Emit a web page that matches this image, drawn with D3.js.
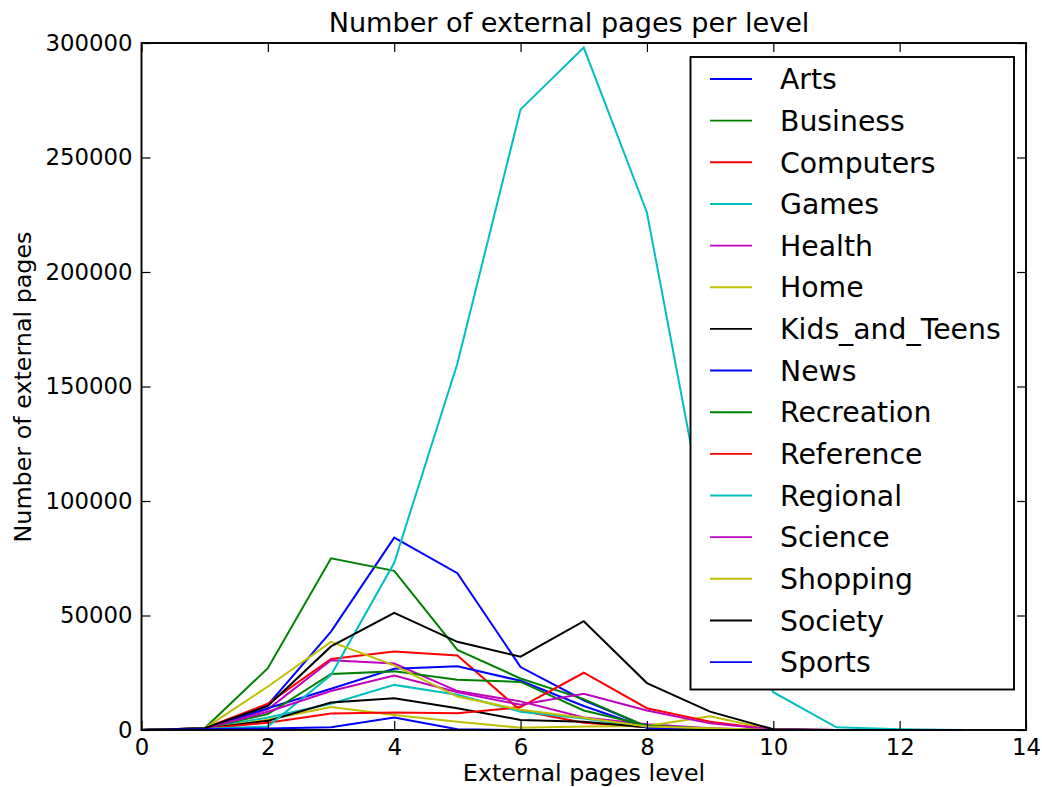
<!DOCTYPE html>
<html>
<head>
<meta charset="utf-8">
<script src="https://cdn.jsdelivr.net/npm/d3@7"></script>
<style>
  html, body { margin: 0; padding: 0; background: #fff; }
  svg { display: block; font-family: "DejaVu Sans", sans-serif; }
</style>
</head>
<body>
<svg id="chart" width="1042" height="787"></svg>
<script>
// External pages level (x) for every category
const levels = [0, 1, 2, 3, 4, 5, 6, 7, 8, 9, 10, 11, 12, 13];

const categories = ["Arts", "Business", "Computers", "Games", "Health", "Home",
  "Kids_and_Teens", "News", "Recreation", "Reference", "Regional", "Science",
  "Shopping", "Society", "Sports"];

// Number of external pages at each level, one array per category
const arts        = [0, 800, 11000, 43000, 84000, 68500, 27500, 13000, 1500, 300, 0, 0, 0, 0];
const business    = [0, 800, 27000, 75000, 69500, 35000, 22500, 13500, 1500, 500, 0, 0, 0, 0];
const computers   = [0, 800, 11500, 31000, 34300, 32500, 8500, 3200, 1200, 500, 0, 0, 0, 0];
const games       = [0, 500, 5500, 11500, 19700, 15400, 8000, 5000, 1200, 300, 0, 0, 0, 0];
const health      = [0, 700, 9000, 30500, 29000, 17000, 12500, 5500, 2500, 800, 0, 0, 0, 0];
const home        = [0, 500, 4500, 10000, 6600, 3600, 1000, 1500, 1700, 6000, 0, 0, 0, 0];
const kidsTeens   = [0, 500, 4000, 12000, 13900, 9500, 4400, 3600, 1200, 400, 0, 0, 0, 0];
const news        = [0, 700, 9500, 18000, 26700, 27800, 21500, 10500, 1000, 300, 0, 0, 0, 0];
const recreation  = [0, 700, 7000, 24500, 25600, 21900, 21000, 8500, 2000, 500, 0, 0, 0, 0];
const reference   = [0, 500, 3200, 7200, 7600, 7300, 10000, 25000, 9500, 3600, 200, 0, 0, 0];
const regional    = [0, 500, 1500, 24000, 73000, 160000, 271000, 298000, 226000, 80000, 16500, 1200, 300, 0];
const science     = [0, 600, 8000, 17000, 23800, 16500, 11000, 15800, 8500, 2900, 300, 0, 0, 0];
const shopping    = [0, 700, 19000, 38500, 28200, 14600, 8800, 5300, 1500, 800, 0, 0, 0, 0];
const society     = [0, 800, 10500, 36500, 51200, 38500, 32000, 47500, 20500, 8000, 300, 0, 0, 0];
const sports      = [0, 300, 700, 1200, 5400, 300, 0, 0, 0, 0, 0, 0, 0, 0];

const seriesValues = [arts, business, computers, games, health, home, kidsTeens,
  news, recreation, reference, regional, science, shopping, society, sports];

const xTicks = [0, 2, 4, 6, 8, 10, 12, 14];
const yTicks = [0, 50000, 100000, 150000, 200000, 250000, 300000];

// Classic color cycle: b, g, r, c, m, y, k
const colorCycle = ["#0000ff", "#008000", "#ff0000", "#00bfbf", "#bf00bf", "#bfbf00", "#000000"];

const margin = { left: 141.5, right: 1026, top: 43, bottom: 730 };

const svg = d3.select("#chart");

const x = d3.scaleLinear().domain([0, 14]).range([margin.left, margin.right]);
const y = d3.scaleLinear().domain([0, 300000]).range([margin.bottom, margin.top]);

const tickFont = 22.8;

// Data lines
const line = d3.line()
  .x((d, i) => x(levels[i]))
  .y(d => y(d));

svg.append("g")
  .selectAll("path")
  .data(seriesValues)
  .join("path")
  .attr("d", d => line(d))
  .attr("fill", "none")
  .attr("stroke", (d, i) => colorCycle[i % colorCycle.length])
  .attr("stroke-width", 2)
  .attr("stroke-linejoin", "miter");

// Axes with inward ticks on all four sides
const tickLen = 9;
const bottomAxis = svg.append("g")
  .attr("transform", `translate(0,${margin.bottom})`)
  .call(d3.axisBottom(x).tickValues(xTicks).tickSizeInner(-tickLen).tickSizeOuter(0).tickPadding(9));
const leftAxis = svg.append("g")
  .attr("transform", `translate(${margin.left},0)`)
  .call(d3.axisLeft(y).tickValues(yTicks).tickFormat(d3.format("d")).tickSizeInner(-tickLen).tickSizeOuter(0).tickPadding(9));
const topAxis = svg.append("g")
  .attr("transform", `translate(0,${margin.top})`)
  .call(d3.axisTop(x).tickValues(xTicks).tickFormat("").tickSizeInner(-tickLen).tickSizeOuter(0));
const rightAxis = svg.append("g")
  .attr("transform", `translate(${margin.right},0)`)
  .call(d3.axisRight(y).tickValues(yTicks).tickFormat("").tickSizeInner(-tickLen).tickSizeOuter(0));

[bottomAxis, leftAxis, topAxis, rightAxis].forEach(g => {
  g.select(".domain").remove();
  g.selectAll(".tick line").attr("stroke", "#000").attr("stroke-width", 1.2);
  g.selectAll("text")
    .attr("font-size", tickFont)
    .attr("fill", "#000")
    .attr("font-family", "DejaVu Sans, sans-serif");
});

// Legend
const legendX = 690.5, legendY = 57, legendW = 323.5, legendH = 632.5;
const rowStep = 41.65;
const legend = svg.append("g");
legend.append("rect")
  .attr("x", legendX).attr("y", legendY)
  .attr("width", legendW).attr("height", legendH)
  .attr("fill", "#fff").attr("stroke", "#000").attr("stroke-width", 1.9);

const items = legend.selectAll("g.item")
  .data(categories)
  .join("g")
  .attr("class", "item")
  .attr("transform", (d, i) => `translate(0,${legendY + 22 + i * rowStep})`);
items.append("line")
  .attr("x1", 710).attr("x2", 752)
  .attr("y1", 0).attr("y2", 0)
  .attr("stroke", (d, i) => colorCycle[i % colorCycle.length])
  .attr("stroke-width", 1.9);
items.append("text")
  .attr("x", 780).attr("y", 0).attr("dy", "0.36em")
  .attr("font-size", 28.3)
  .attr("fill", "#000")
  .text(d => d);

// Plot frame
svg.append("rect")
  .attr("x", margin.left).attr("y", margin.top)
  .attr("width", margin.right - margin.left)
  .attr("height", margin.bottom - margin.top)
  .attr("fill", "none").attr("stroke", "#000").attr("stroke-width", 1.9);

// Title and axis labels
svg.append("text")
  .attr("x", 569).attr("y", 32)
  .attr("text-anchor", "middle")
  .attr("font-size", 27.1)
  .attr("fill", "#000")
  .text("Number of external pages per level");

svg.append("text")
  .attr("x", 584).attr("y", 781)
  .attr("text-anchor", "middle")
  .attr("font-size", 23.8)
  .attr("fill", "#000")
  .text("External pages level");

svg.append("text")
  .attr("transform", `translate(31,387) rotate(-90)`)
  .attr("text-anchor", "middle")
  .attr("font-size", 23.8)
  .attr("fill", "#000")
  .text("Number of external pages");
</script>
</body>
</html>
